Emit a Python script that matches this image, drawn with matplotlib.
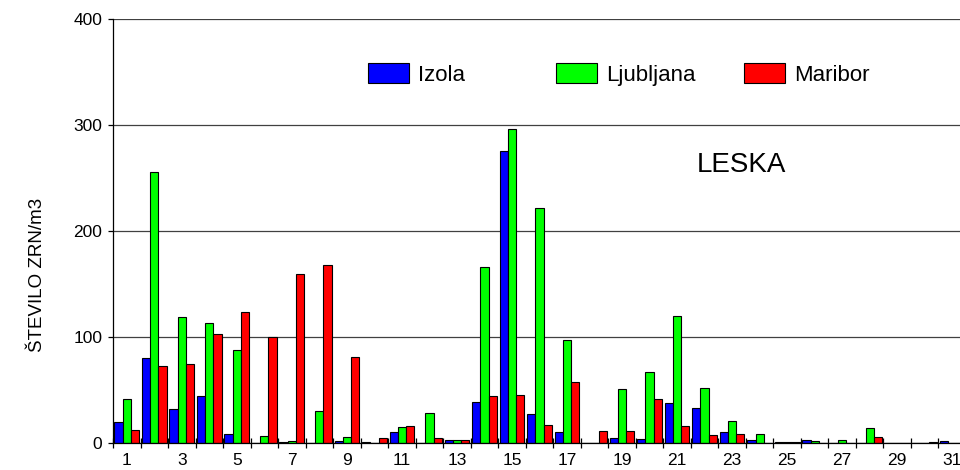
import numpy as np
import matplotlib
matplotlib.use("Agg")
import matplotlib.pyplot as plt

plt.rcParams['font.family'] = ['Liberation Sans', 'DejaVu Sans']

days = np.arange(1, 32)
izola = [20, 80, 32, 45, 9, 0, 1, 0, 2, 1, 11, 0, 3, 39, 276, 28,
         11, 0, 5, 4, 38, 33, 11, 3, 1, 3, 0, 0, 0, 0, 2]
ljubljana = [42, 256, 119, 113, 88, 7, 2, 30, 6, 0, 15, 29, 3, 166, 296, 222,
             97, 0, 51, 67, 120, 52, 21, 9, 1, 2, 3, 14, 0, 0, 0]
maribor = [13, 73, 75, 103, 124, 100, 160, 168, 81, 5, 16, 5, 3, 45, 46, 17,
           58, 12, 12, 42, 16, 8, 9, 0, 1, 0, 0, 6, 0, 1, 0]
series = [("Izola", izola, "#0000ff"),
          ("Ljubljana", ljubljana, "#00ff00"),
          ("Maribor", maribor, "#ff0000")]

W, H = 960, 470
fig = plt.figure(figsize=(W / 100, H / 100), dpi=100)
ax = fig.add_axes([113 / W, (H - 443.3) / H, (966 - 113) / W, (443.3 - 19) / H])

bw = 0.3
containers = []
for i, (name, vals, col) in enumerate(series):
    bc = ax.bar(days + (i - 1) * bw, vals, width=bw, color=col,
                edgecolor="black", linewidth=0.8, label=name, zorder=3)
    containers.append(bc)

ax.set_xlim(0.5, 31.5)
ax.set_ylim(0, 400)
ax.set_yticks([0, 100, 200, 300, 400])
ax.set_xticks(np.arange(1, 32, 2))
ax.set_xticks(np.arange(0.5, 32, 1), minor=True)
ax.tick_params(axis="x", which="major", length=0, pad=7, labelsize=12.5)
ax.tick_params(axis="x", which="minor", direction="inout", length=6.5, width=0.9)
ax.tick_params(axis="y", direction="out", length=3.6, width=0.9, pad=4, labelsize=12.5)

ax.yaxis.grid(True, color="#404040", linewidth=0.9)
ax.set_axisbelow(True)
for s in ("top", "right"):
    ax.spines[s].set_visible(False)
for s in ("left", "bottom"):
    ax.spines[s].set_linewidth(0.9)
    ax.spines[s].set_zorder(4)

# one legend entry per station, spread across the top
legend_x = [368, 556, 744]
for k, (bc, x) in enumerate(zip(containers, legend_x)):
    leg = ax.legend([bc], [bc.get_label()], loc="center left",
                    bbox_to_anchor=(x / W, (H - 74.5) / H),
                    bbox_transform=fig.transFigure, frameon=False,
                    borderpad=0, borderaxespad=0, fontsize=16,
                    handlelength=1.86, handleheight=0.95, handletextpad=0.4)
    if k < len(containers) - 1:
        ax.add_artist(leg)

ax.text(0.737, 0.656, "LESKA", transform=ax.transAxes, fontsize=20,
        ha="center", va="center")
fig.text(38 / W, (H - 275) / H, "ŠTEVILO ZRN/m3", rotation=90,
         fontsize=13.5, ha="center", va="center")

fig.savefig("out.png", dpi=100)
